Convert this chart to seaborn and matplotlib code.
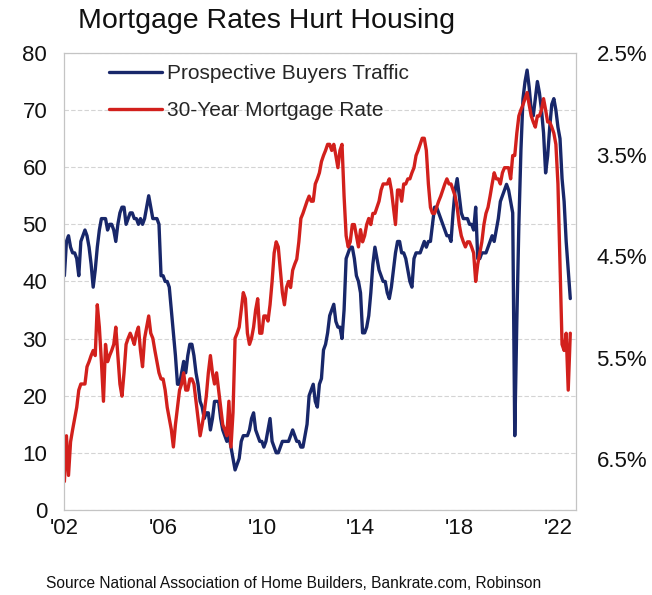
import pandas as pd
import matplotlib
matplotlib.use("Agg")
import matplotlib.pyplot as plt
import seaborn as sns

# monthly readings, Jan 2002 .. Jul 2022
traffic = [
    41, 47, 48, 46, 45, 45, 44, 41, 47, 48, 49, 48,   # 2002
    46, 43, 39, 42, 46, 49, 51, 51, 51, 49, 50, 50,   # 2003
    49, 47, 50, 52, 53, 53, 50, 51, 52, 52, 51, 51,   # 2004
    50, 51, 50, 51, 53, 55, 53, 51, 51, 51, 50, 41,   # 2005
    41, 40, 40, 39, 35, 31, 27, 22, 22, 24, 26, 24,   # 2006
    27, 29, 29, 27, 24, 22, 19, 18, 16, 17, 17, 14,   # 2007
    16, 19, 19, 19, 16, 14, 13, 12, 13, 11, 9, 7,     # 2008
    8, 9, 12, 13, 13, 13, 14, 16, 17, 14, 13, 12,     # 2009
    12, 11, 12, 14, 16, 12, 11, 10, 10, 11, 12, 12,   # 2010
    12, 12, 13, 14, 13, 12, 12, 11, 11, 13, 15, 20,   # 2011
    21, 22, 19, 18, 22, 23, 28, 29, 31, 34, 35, 36,   # 2012
    33, 32, 32, 30, 35, 44, 45, 46, 46, 44, 41, 40,   # 2013
    38, 31, 31, 32, 34, 38, 43, 46, 44, 42, 41, 40,   # 2014
    40, 38, 37, 39, 42, 45, 47, 47, 45, 45, 44, 42,   # 2015
    40, 39, 44, 45, 45, 45, 46, 47, 46, 47, 47, 50,   # 2016
    53, 53, 52, 51, 50, 49, 48, 48, 47, 52, 56, 58,   # 2017
    55, 52, 51, 51, 51, 50, 50, 49, 53, 44, 44, 45,   # 2018
    45, 45, 46, 47, 48, 47, 49, 51, 54, 55, 56, 57,   # 2019
    56, 54, 52, 13, 33, 50, 63, 72, 75, 77, 74, 70,   # 2020
    69, 72, 75, 73, 70, 66, 59, 62, 67, 71, 72, 70,   # 2021
    67, 65, 58, 54, 47, 42, 37,                       # 2022
]

# 30-year mortgage rate, %
rate = [
    6.72, 6.27, 6.66, 6.33, 6.21, 6.10, 5.99, 5.82, 5.76, 5.76, 5.76, 5.59,
    5.54, 5.48, 5.43, 5.48, 4.98, 5.20, 5.54, 5.93, 5.37, 5.54, 5.48, 5.43,
    5.37, 5.20, 5.48, 5.76, 5.88, 5.65, 5.37, 5.31, 5.26, 5.31, 5.37, 5.26,
    5.20, 5.43, 5.59, 5.31, 5.20, 5.09, 5.26, 5.31, 5.43, 5.54, 5.65, 5.71,
    5.71, 5.82, 5.99, 6.10, 6.21, 6.38, 6.16, 5.99, 5.82, 5.76, 5.65, 5.82,
    5.82, 5.71, 5.71, 5.76, 5.93, 6.10, 6.27, 6.16, 6.04, 5.88, 5.65, 5.48,
    5.65, 5.76, 5.65, 5.82, 5.99, 6.16, 6.21, 6.27, 5.93, 6.38, 6.04, 5.31,
    5.26, 5.20, 5.03, 4.86, 4.92, 5.26, 5.37, 5.31, 5.20, 5.03, 4.92, 5.26,
    5.26, 5.09, 5.09, 5.14, 4.98, 4.75, 4.47, 4.36, 4.41, 4.64, 4.86, 4.98,
    4.81, 4.75, 4.81, 4.64, 4.58, 4.53, 4.36, 4.13, 4.08, 4.02, 3.96, 3.91,
    3.96, 3.96, 3.79, 3.74, 3.68, 3.57, 3.51, 3.46, 3.40, 3.40, 3.46, 3.40,
    3.51, 3.63, 3.46, 3.40, 3.91, 4.30, 4.41, 4.36, 4.19, 4.19, 4.30, 4.41,
    4.24, 4.36, 4.30, 4.19, 4.13, 4.19, 4.08, 4.08, 4.02, 3.96, 3.85, 3.79,
    3.79, 3.79, 3.74, 3.85, 4.02, 4.19, 3.85, 3.85, 3.96, 3.79, 3.79, 3.74,
    3.74, 3.68, 3.63, 3.51, 3.46, 3.40, 3.34, 3.34, 3.46, 3.79, 4.02, 4.08,
    4.08, 4.02, 3.96, 3.91, 3.85, 3.79, 3.74, 3.79, 3.79, 3.85, 3.91, 4.02,
    4.19, 4.30, 4.36, 4.41, 4.36, 4.36, 4.41, 4.47, 4.75, 4.58, 4.47, 4.36,
    4.19, 4.08, 4.02, 3.91, 3.79, 3.68, 3.74, 3.74, 3.79, 3.68, 3.63, 3.63,
    3.63, 3.74, 3.51, 3.51, 3.29, 3.12, 3.06, 3.01, 2.95, 2.89, 3.01, 3.12,
    3.18, 3.23, 3.12, 3.12, 3.06, 2.95, 3.06, 3.18, 3.18, 3.23, 3.29, 3.40,
    3.79, 4.58, 5.37, 5.43, 5.26, 5.82, 5.26,
]

year_ticks = [2002, 2006, 2010, 2014, 2018, 2022]
year_labels = ["'02", "'06", "'10", "'14", "'18", "'22"]
rate_ticks = [2.5, 3.5, 4.5, 5.5, 6.5]
rate_labels = ["2.5%", "3.5%", "4.5%", "5.5%", "6.5%"]

months = pd.date_range("2002-01-01", periods=len(traffic), freq="MS")
df = pd.DataFrame({
    "t": months.year + (months.month - 1) / 12,
    "traffic": traffic,
    "rate": rate,
})

sns.set_style("white")
plt.rcParams["font.family"] = ["Liberation Sans", "DejaVu Sans"]

navy = "#18276a"
red = "#d2201c"

fig = plt.figure(figsize=(6.52, 5.95), dpi=100)
ax = fig.add_axes([0.098, 0.143, 0.785, 0.768])
ax2 = ax.twinx()

sns.lineplot(data=df, x="t", y="traffic", ax=ax, color=navy, lw=2.4,
             label="Prospective Buyers Traffic", legend=False)
sns.lineplot(data=df, x="t", y="rate", ax=ax2, color=red, lw=2.4,
             label="30-Year Mortgage Rate", legend=False)

ax.set_xlim(2001.98, 2022.72)
ax.set_ylim(0, 80)
ax2.set_ylim(7.0, 2.5)

ax.set_xticks(year_ticks)
ax.set_xticklabels(year_labels)
ax.set_yticks(range(0, 90, 10))
ax2.set_yticks(rate_ticks)
ax2.set_yticklabels(rate_labels)

ax.tick_params(axis="y", length=0, labelsize=16, pad=12, colors="#111111")
ax.tick_params(axis="x", length=0, labelsize=16, pad=6, colors="#111111")
ax2.tick_params(axis="y", length=0, labelsize=16, pad=15, colors="#111111")

ax.set_xlabel("")
ax.set_ylabel("")
ax2.set_ylabel("")

ax.yaxis.grid(True, ls=(0, (4, 2)), color="#d4d4d4", lw=0.8)
ax.xaxis.grid(False)
for a in (ax, ax2):
    for s in a.spines.values():
        s.set_color("#c4c4c4")
        s.set_linewidth(0.8)

h1, l1 = ax.get_legend_handles_labels()
h2, l2 = ax2.get_legend_handles_labels()
ax2.legend(h1 + h2, l1 + l2, loc="upper left", bbox_to_anchor=(0.088, 0.975),
           frameon=False, fontsize=15, handlelength=2.55, handletextpad=0.25,
           labelspacing=0.85, borderpad=0, borderaxespad=0)

fig.text(0.408, 0.965, "Mortgage Rates Hurt Housing", ha="center", va="center",
         fontsize=20.5, color="#111111")
fig.text(0.45, 0.02, "Source National Association of Home Builders, Bankrate.com, Robinson",
         ha="center", va="center", fontsize=11.2, color="#111111")

fig.savefig("out.png", dpi=100)
